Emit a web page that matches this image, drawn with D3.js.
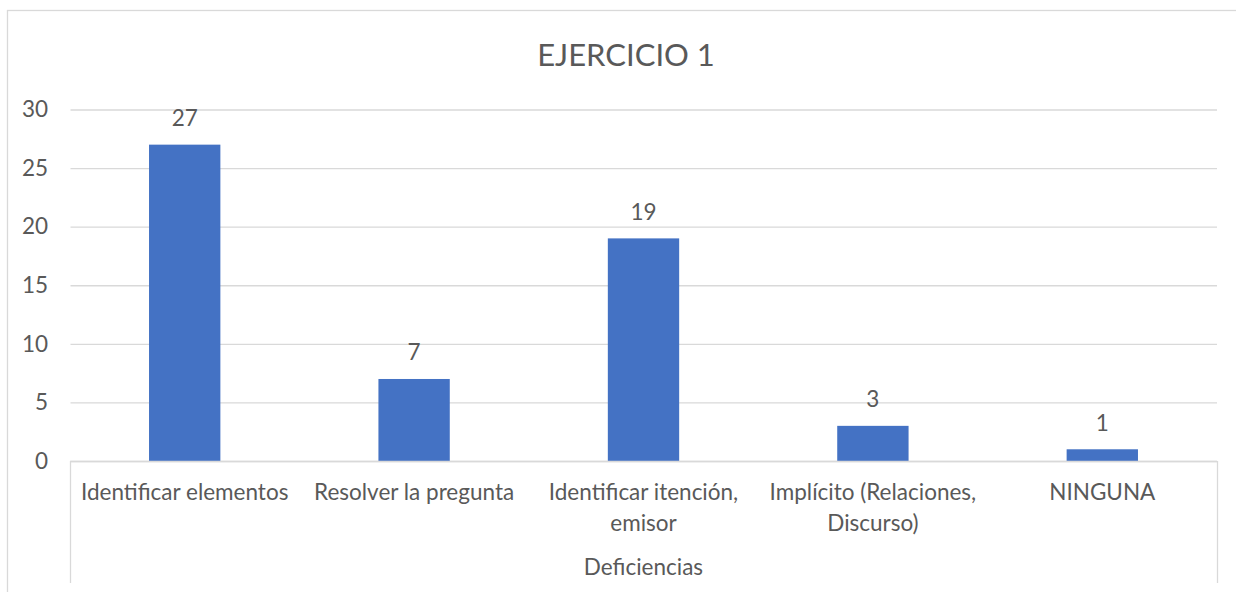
<!DOCTYPE html>
<html>
<head>
<meta charset="utf-8">
<script src="https://cdn.jsdelivr.net/npm/d3@7"></script>
<style>
  html, body { margin: 0; padding: 0; background: #ffffff; }
  svg { display: block; }
  text { font-family: "Lato", "Open Sans", sans-serif; fill: #595959; }
</style>
</head>
<body>
<svg id="chart" width="1236" height="592"></svg>
<script>
const categories = [
  "Identificar elementos",
  "Resolver la pregunta",
  "Identificar itención, emisor",
  "Implícito (Relaciones, Discurso)",
  "NINGUNA"
];
const values = [27, 7, 19, 3, 1];
const yTicks = [0, 5, 10, 15, 20, 25, 30];
const chartTitle = "EJERCICIO 1";
const axisTitle = "Deficiencias";

const W = 1236, H = 592;
const plot = { left: 70, right: 1217, top: 109.5, bottom: 461 };
const gridColor = "#d9d9d9";
const barColor = "#4472C4";
const labelSize = 22.5;

const svg = d3.select("#chart");

// outer chart border (extends past the picture on right/bottom)
svg.append("rect")
  .attr("x", 7.5).attr("y", 10.5)
  .attr("width", W + 20).attr("height", H + 20)
  .attr("fill", "none").attr("stroke", gridColor).attr("stroke-width", 1.3);

const x = d3.scaleBand()
  .domain(categories)
  .range([plot.left, plot.right])
  .paddingInner(0.689)
  .paddingOuter(0.689 / 2);

const y = d3.scaleLinear()
  .domain([0, 30])
  .range([plot.bottom, plot.top]);

// Y axis with gridlines
const yAxis = d3.axisLeft(y)
  .tickValues(yTicks)
  .tickSize(-(plot.right - plot.left))
  .tickPadding(22)
  .tickFormat(d3.format("d"));

const gy = svg.append("g")
  .attr("transform", `translate(${plot.left},0)`)
  .call(yAxis);
gy.select(".domain").remove();
gy.selectAll(".tick line")
  .attr("stroke", gridColor).attr("stroke-width", 1.3)
  .attr("x1", 0.5);
gy.selectAll(".tick text")
  .attr("font-size", labelSize)
  .attr("fill", "#595959")
  .style("font-family", "Lato, 'Open Sans', sans-serif");

// bars
svg.append("g").selectAll("rect")
  .data(values)
  .join("rect")
  .attr("x", (d, i) => x(categories[i]))
  .attr("width", x.bandwidth())
  .attr("y", d => y(d))
  .attr("height", d => y(0) - y(d))
  .attr("fill", barColor);

// value labels
svg.append("g").selectAll("text")
  .data(values)
  .join("text")
  .attr("x", (d, i) => x(categories[i]) + x.bandwidth() / 2)
  .attr("y", d => y(d) - 18.5)
  .attr("text-anchor", "middle")
  .attr("font-size", labelSize)
  .text(d => d);

// X axis
const xAxis = d3.axisBottom(x).tickSize(0).tickPadding(0);
const gx = svg.append("g")
  .attr("transform", `translate(0,${plot.bottom})`)
  .call(xAxis);
gx.select(".domain").remove();
gx.selectAll(".tick text").remove();

// axis line and label-area separators
svg.append("line")
  .attr("x1", plot.left).attr("x2", plot.right)
  .attr("y1", plot.bottom + 0.5).attr("y2", plot.bottom + 0.5)
  .attr("stroke", gridColor).attr("stroke-width", 1.3);
[plot.left, plot.right].forEach(px => {
  svg.append("line")
    .attr("x1", px + 0.5).attr("x2", px + 0.5)
    .attr("y1", plot.bottom).attr("y2", 583)
    .attr("stroke", gridColor).attr("stroke-width", 1.3);
});

// wrapped category labels
const maxW = x.step() - 4;
gx.selectAll(".tick").each(function(d) {
  const t = d3.select(this).append("text")
    .attr("text-anchor", "middle")
    .attr("font-size", labelSize)
    .attr("fill", "#595959")
    .style("font-family", "Lato, 'Open Sans', sans-serif")
    .attr("y", 39);
  const words = d.split(" ");
  let lines = [], cur = [];
  const probe = t.append("tspan");
  words.forEach(w => {
    const test = cur.concat([w]).join(" ");
    probe.text(test);
    if (probe.node().getComputedTextLength() > maxW && cur.length) {
      lines.push(cur.join(" "));
      cur = [w];
    } else {
      cur.push(w);
    }
  });
  lines.push(cur.join(" "));
  probe.remove();
  lines.forEach((ln, i) => {
    t.append("tspan").attr("x", 0).attr("dy", i === 0 ? 0 : 30.5).text(ln);
  });
});

// titles
svg.append("text")
  .attr("x", 626).attr("y", 66)
  .attr("text-anchor", "middle")
  .attr("font-size", 31)
  .text(chartTitle);

svg.append("text")
  .attr("x", (plot.left + plot.right) / 2).attr("y", 575)
  .attr("text-anchor", "middle")
  .attr("font-size", labelSize)
  .text(axisTitle);
</script>
</body>
</html>
